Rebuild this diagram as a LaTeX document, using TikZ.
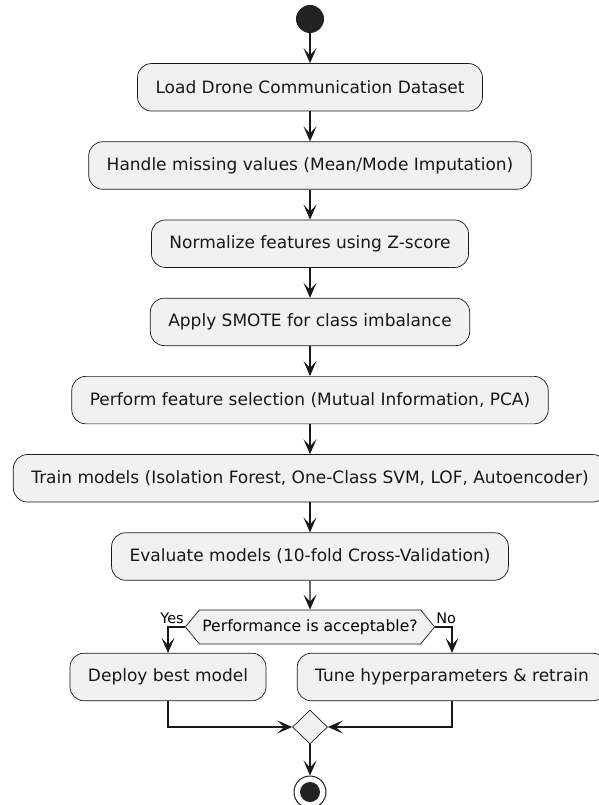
\documentclass[tikz,border=0pt]{standalone}
\usepackage{fontspec}
\setmainfont{DejaVu Sans}
\definecolor{umlink}{HTML}{181818}
\definecolor{umlfill}{HTML}{F1F1F1}
\definecolor{umldot}{HTML}{222222}
\usetikzlibrary{arrows.meta, positioning, calc, shapes.geometric, shapes.symbols}

\begin{document}
\begin{tikzpicture}[
    x=1pt, y=1pt,
    font=\fontsize{17}{20}\selectfont\color{umlink},
    arr/.style={
        -{Stealth[length=15pt, width=13pt, inset=7pt]},
        umlink, line width=1.1pt,
    },
    actbox/.style={
        rectangle, rounded corners=14pt, fill=umlfill, draw=umlink,
        line width=0.7pt, minimum height=47.5pt,
        inner xsep=18pt, inner ysep=0pt, align=center,
    },
    decbox/.style={
        signal, signal to=west and east, signal pointer angle=101,
        fill=umlfill, draw=umlink, line width=0.7pt,
        minimum height=34pt, inner xsep=3pt, inner ysep=0pt,
        font=\fontsize{15.6}{18}\selectfont,
    },
    mergebox/.style={
        diamond, fill=umlfill, draw=umlink, line width=0.7pt,
        minimum width=35pt, minimum height=34pt, inner sep=0pt,
    },
    startdot/.style={
        circle, fill=umldot, minimum size=28pt, inner sep=0pt,
    },
    stopring/.style={
        circle, fill=white, draw=umlink, line width=1pt,
        minimum size=32pt, inner sep=0pt,
    },
    stopdot/.style={
        circle, fill=umldot, minimum size=20pt, inner sep=0pt,
    },
    guard/.style={
        font=\fontsize{14.5}{17}\selectfont, inner sep=0pt,
    },
    node distance=30pt,
]
\useasboundingbox (0,0) rectangle (599,-805);

% -- Start --
\node[startdot] (start) at (310,-19) {};

% -- Preprocessing chain --
\node[actbox, below=30pt of start] (b1) {Load Drone Communication Dataset};
\node[actbox, below=of b1] (b2) {Handle missing values (Mean/Mode Imputation)};
\node[actbox, below=of b2] (b3) {Normalize features using Z-score};
\node[actbox, below=of b3] (b4) {Apply SMOTE for class imbalance};
\node[actbox, below=of b4] (b5) {Perform feature selection (Mutual Information, PCA)};
\node[actbox, below=of b5] (b6) {Train models (Isolation Forest, One-Class SVM, LOF, Autoencoder)};
\node[actbox, below=of b6] (b7) {Evaluate models (10-fold Cross-Validation)};

\draw[arr] (start) -- (b1);
\draw[arr] (b1) -- (b2);
\draw[arr] (b2) -- (b3);
\draw[arr] (b3) -- (b4);
\draw[arr] (b4) -- (b5);
\draw[arr] (b5) -- (b6);
\draw[arr] (b6) -- (b7);

% -- Decision --
\node[decbox, below=29pt of b7] (dec) {Performance is acceptable?};
\draw[arr] (b7) -- (dec);

\node[actbox] (b8) at (168,-677) {Deploy best model};
\node[actbox] (b9) at (452,-677) {Tune hyperparameters \& retrain};

\draw[arr] (dec.west) -| (b8.north);
\draw[arr] (dec.east) -| (b9.north);
\node[guard, anchor=base east] at ([xshift=-1pt, yshift=3pt]dec.west) {Yes};
\node[guard, anchor=base west] at ([xshift=1pt, yshift=3pt]dec.east) {No};

% -- Merge and stop --
\node[mergebox] (mg) at (310,-727) {};
\draw[arr] (b8.south) |- (mg.west);
\draw[arr] (b9.south) |- (mg.east);

\node[stopring] (stop) at (310,-792) {};
\node[stopdot] at (stop) {};
\draw[arr] (mg.south) -- (stop.north);

\end{tikzpicture}
\end{document}
